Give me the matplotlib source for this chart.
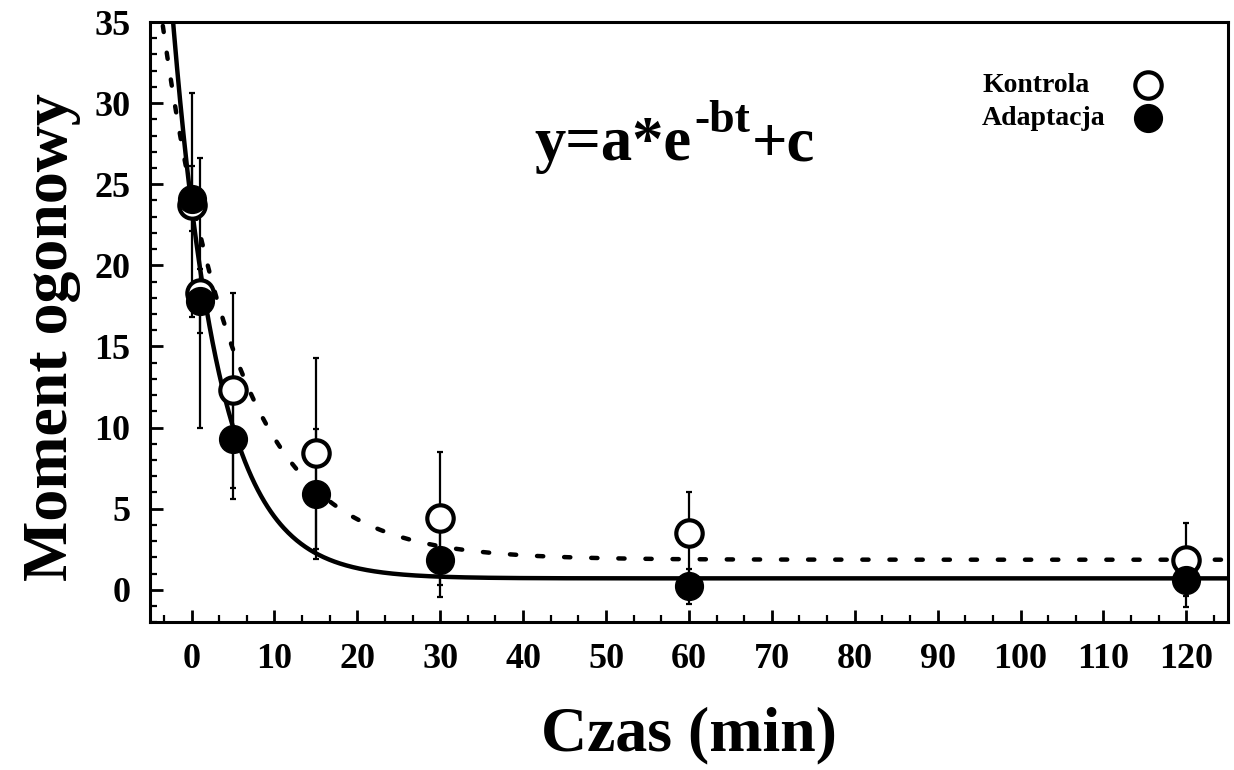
import numpy as np
import matplotlib
matplotlib.use("Agg")
import matplotlib.pyplot as plt
from matplotlib.ticker import AutoMinorLocator

# ---- data ----
time_pts = [0, 1, 5, 15, 30, 60, 120]
kontrola = [23.7, 18.3, 12.3, 8.4, 4.4, 3.5, 1.85]
kontrola_err = [6.9, 8.3, 6.0, 5.9, 4.1, 2.5, 2.25]
adaptacja = [24.1, 17.8, 9.3, 5.9, 1.85, 0.2, 0.6]
adaptacja_err = [2.0, 2.0, 3.7, 4.0, 2.3, 1.1, 1.65]

# fit parameters y = a*exp(-b t) + c
fit_kontrola = dict(a=22.5, b=0.11, c=1.85)
fit_adaptacja = dict(a=23.0, b=0.18, c=0.7)

x_ticks = [0, 10, 20, 30, 40, 50, 60, 70, 80, 90, 100, 110, 120]
y_ticks = [0, 5, 10, 15, 20, 25, 30, 35]
series_labels = ['Kontrola', 'Adaptacja']

plt.rcParams['font.family'] = ['Liberation Serif', 'DejaVu Serif']
plt.rcParams['font.weight'] = 'bold'

fig = plt.figure(figsize=(12.34, 7.7), dpi=100)
ax = fig.add_axes([0.1216, 0.192, 0.8734, 0.7794])

t = np.linspace(-5, 125, 1000)
yk = fit_kontrola['a'] * np.exp(-fit_kontrola['b'] * t) + fit_kontrola['c']
ya = fit_adaptacja['a'] * np.exp(-fit_adaptacja['b'] * t) + fit_adaptacja['c']
ax.plot(t, yk, color='black', lw=3.2, linestyle=(0, (1.4, 4.7)),
        dash_capstyle='round', zorder=2)
ax.plot(t, ya, color='black', lw=3.2, solid_capstyle='round', zorder=2)

ax.errorbar(time_pts, kontrola, yerr=kontrola_err, fmt='none', ecolor='black',
            elinewidth=1.6, capsize=2.5, capthick=1.6, zorder=3)
ax.errorbar(time_pts, adaptacja, yerr=adaptacja_err, fmt='none', ecolor='black',
            elinewidth=1.6, capsize=2.5, capthick=1.6, zorder=3)
ax.plot(time_pts, kontrola, 'o', ms=19, mfc='white', mec='black', mew=3.0,
        linestyle='none', zorder=4)
ax.plot(time_pts, adaptacja, 'o', ms=20, mfc='black', mec='black', mew=1,
        linestyle='none', zorder=5)

ax.set_xlim(-5, 125)
ax.set_ylim(-2, 35)
ax.set_xticks(x_ticks)
ax.set_yticks(y_ticks)
ax.xaxis.set_minor_locator(AutoMinorLocator(3))
ax.yaxis.set_minor_locator(AutoMinorLocator(5))
ax.tick_params(which='both', direction='in', top=False, right=False,
               labelsize=26, width=2)
ax.tick_params(which='major', length=9)
ax.tick_params(which='minor', length=5, width=1.6)
ax.tick_params(axis='y', pad=14)
ax.tick_params(axis='x', pad=15)
for lab in ax.get_xticklabels() + ax.get_yticklabels():
    lab.set_fontweight('bold')
for sp in ax.spines.values():
    sp.set_linewidth(2.2)

ax.set_xlabel('Czas (min)', fontsize=46, fontweight='bold', labelpad=22)
ax.set_ylabel('Moment ogonowy', fontsize=46, fontweight='bold')
ax.yaxis.set_label_coords(-0.064, 0.475)

# equation y=a*e^{-bt}+c built from pieces
fig.canvas.draw()
renderer = fig.canvas.get_renderer()
inv = ax.transAxes.inverted()
base_y = 0.77
t1 = ax.text(0.357, base_y, 'y=a*e', transform=ax.transAxes, fontsize=45,
             fontweight='bold', ha='left', va='baseline')
bb = t1.get_window_extent(renderer)
x_end = inv.transform((bb.x1, bb.y0))[0]
t2 = ax.text(x_end + 0.002, base_y + 0.047, '-bt', transform=ax.transAxes,
             fontsize=33, fontweight='bold', ha='left', va='baseline')
bb2 = t2.get_window_extent(renderer)
x_end2 = inv.transform((bb2.x1, bb2.y0))[0]
ax.text(x_end2 + 0.002, base_y, '+c', transform=ax.transAxes, fontsize=45,
        fontweight='bold', ha='left', va='baseline')

# legend drawn manually
leg_y = [0.895, 0.84]
ax.plot([0.926], [leg_y[0]], 'o', ms=19, mfc='white', mec='black', mew=3.0,
        transform=ax.transAxes, clip_on=False)
ax.plot([0.926], [leg_y[1]], 'o', ms=20, mfc='black', mec='black',
        transform=ax.transAxes, clip_on=False)
for lbl, yy in zip(series_labels, leg_y):
    ax.text(0.772, yy, lbl, transform=ax.transAxes, fontsize=20,
            fontweight='bold', ha='left', va='center')

fig.savefig('out.png', dpi=100)
